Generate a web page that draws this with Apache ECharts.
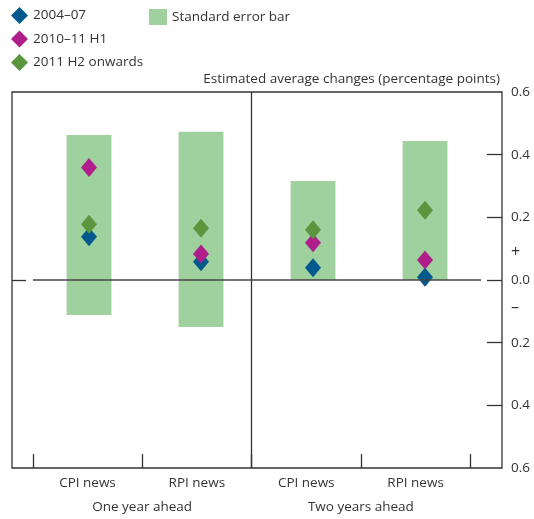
<!DOCTYPE html>
<html>
<head>
<meta charset="utf-8">
<script src="https://cdn.jsdelivr.net/npm/echarts@6/dist/echarts.min.js"></script>
<style>
  html, body { margin: 0; padding: 0; background: #fff; }
  #chart { width: 534px; height: 519px; }
</style>
</head>
<body>
<div id="chart"></div>
<script>
// Categories along the bottom axis and their grouping
const categories = ['CPI news', 'RPI news', 'CPI news', 'RPI news'];
const horizons = ['One year ahead', 'Two years ahead'];

// Standard error range for each category (percentage points)
const errLow = [-0.112, -0.150, 0.0, 0.0];
const errHigh = [0.463, 0.473, 0.316, 0.444];

// Estimated average changes by period
const s2004 = [0.138, 0.058, 0.039, 0.009];
const s2010 = [0.359, 0.083, 0.119, 0.064];
const s2011 = [0.178, 0.165, 0.160, 0.223];

const seriesNames = ['2004–07', '2010–11 H1', '2011 H2 onwards'];
const errName = 'Standard error bar';

// Value axis ticks
const yTickValues = [-0.4, -0.2, 0, 0.2, 0.4];
const yLabelValues = [-0.6, -0.4, -0.2, 0, 0.2, 0.4, 0.6];
const signOffset = 0.088;

const COL_BLUE = '#00598D';
const COL_MAGENTA = '#B01E8C';
const COL_GREEN = '#5B953D';
const COL_BAR = '#9ED19E';
const INK = '#333333';
const FONT = 'Open Sans';
const FS = 13.5;

const chart = echarts.init(document.getElementById('chart'), null, { renderer: 'canvas' });

const txt = { fontFamily: FONT, fontSize: FS, color: INK };

const option = {
  animation: false,
  backgroundColor: '#ffffff',
  textStyle: { fontFamily: FONT },
  title: {
    text: 'Estimated average changes (percentage points)',
    right: 34,
    top: 72,
    padding: 0,
    textStyle: { fontFamily: FONT, fontSize: FS, fontWeight: 'normal', color: INK }
  },
  legend: [
    {
      data: seriesNames,
      orient: 'vertical',
      left: 11,
      top: 7,
      padding: 0,
      itemWidth: 17,
      itemHeight: 17,
      itemGap: 6.5,
      icon: 'diamond',
      selectedMode: false,
      textStyle: txt
    },
    {
      data: [{ name: errName, icon: 'rect' }],
      left: 149,
      top: 9,
      padding: 0,
      itemWidth: 18,
      itemHeight: 16,
      selectedMode: false,
      textStyle: txt
    }
  ],
  grid: [
    // outer frame with axes
    { left: 12, right: 32, top: 92, bottom: 51, show: true, borderColor: INK, borderWidth: 1.3, backgroundColor: 'transparent' },
    // data area for the four categories
    { left: 33, right: 53, top: 92, bottom: 51 }
  ],
  xAxis: [
    {
      gridIndex: 0, type: 'value', min: -0.19, max: 4.29, position: 'bottom',
      axisLine: { show: false, onZero: false },
      splitLine: { show: false },
      axisTick: { show: true, inside: true, length: 14, customValues: [0, 1, 2, 3, 4], lineStyle: { color: INK, width: 1.3 } },
      axisLabel: {
        customValues: [0.5, 1.5, 2.5, 3.5], margin: 8, ...txt,
        formatter: v => categories[Math.floor(v)]
      }
    },
    {
      gridIndex: 0, type: 'value', min: -0.19, max: 4.29, position: 'bottom',
      axisLine: { show: false, onZero: false },
      splitLine: { show: false },
      axisTick: { show: false },
      axisLabel: {
        customValues: [1, 3], margin: 32, ...txt,
        formatter: v => horizons[Math.round((v - 1) / 2)]
      }
    },
    {
      gridIndex: 1, type: 'category', data: categories, boundaryGap: true, show: false
    }
  ],
  yAxis: [
    {
      gridIndex: 0, type: 'value', position: 'right', min: -0.6, max: 0.6, interval: 0.2,
      axisLine: { show: false, onZero: false },
      splitLine: { show: false },
      axisTick: { show: true, inside: true, length: 15, customValues: yTickValues, lineStyle: { color: INK, width: 1.3 } },
      axisLabel: {
        customValues: yLabelValues.concat([signOffset, -signOffset]), margin: 9, ...txt,
        formatter: v => {
          if (Math.abs(Math.abs(v) - signOffset) < 1e-6) return v > 0 ? '{s|+}' : '{s|–}';
          return Math.abs(v).toFixed(1);
        },
        rich: { s: { fontFamily: FONT, fontSize: 16, color: INK } }
      }
    },
    {
      gridIndex: 0, type: 'value', position: 'left', min: -0.6, max: 0.6,
      axisLine: { show: false, onZero: false },
      splitLine: { show: false },
      axisTick: { show: true, inside: true, length: 14, customValues: [0], lineStyle: { color: INK, width: 1.3 } },
      axisLabel: { show: false }
    },
    {
      gridIndex: 1, type: 'value', min: -0.6, max: 0.6, show: false, splitLine: { show: false }
    }
  ],
  series: [
    {
      // divider between the two horizons
      type: 'line', xAxisIndex: 0, yAxisIndex: 0, data: [], silent: true,
      markLine: {
        symbol: 'none', silent: true, label: { show: false },
        lineStyle: { color: INK, width: 1.3, type: 'solid' },
        data: [{ xAxis: 2 }]
      }
    },
    {
      name: errName,
      type: 'custom',
      xAxisIndex: 2, yAxisIndex: 2,
      itemStyle: { color: COL_BAR },
      encode: { x: 0, y: [1, 2] },
      data: categories.map((c, i) => [i, errLow[i], errHigh[i]]),
      renderItem: (params, api) => {
        const idx = api.value(0);
        const lo = api.coord([idx, api.value(1)]);
        const hi = api.coord([idx, api.value(2)]);
        const w = api.size([1, 0])[0] * 0.4;
        return {
          type: 'rect',
          shape: { x: lo[0] - w / 2, y: hi[1], width: w, height: lo[1] - hi[1] },
          style: { fill: COL_BAR }
        };
      },
      markLine: {
        symbol: 'none', silent: true, label: { show: false },
        lineStyle: { color: '#444', width: 1.5, type: 'solid' },
        data: [{ yAxis: 0 }]
      },
      z: 2
    },
    {
      name: seriesNames[0], type: 'scatter', xAxisIndex: 2, yAxisIndex: 2,
      symbol: 'diamond', symbolSize: [16, 19], itemStyle: { color: COL_BLUE, opacity: 1 },
      data: s2004, z: 3
    },
    {
      name: seriesNames[1], type: 'scatter', xAxisIndex: 2, yAxisIndex: 2,
      symbol: 'diamond', symbolSize: [16, 19], itemStyle: { color: COL_MAGENTA, opacity: 1 },
      data: s2010, z: 4
    },
    {
      name: seriesNames[2], type: 'scatter', xAxisIndex: 2, yAxisIndex: 2,
      symbol: 'diamond', symbolSize: [16, 19], itemStyle: { color: COL_GREEN, opacity: 1 },
      data: s2011, z: 5
    }
  ]
};

chart.setOption(option);
</script>
</body>
</html>
